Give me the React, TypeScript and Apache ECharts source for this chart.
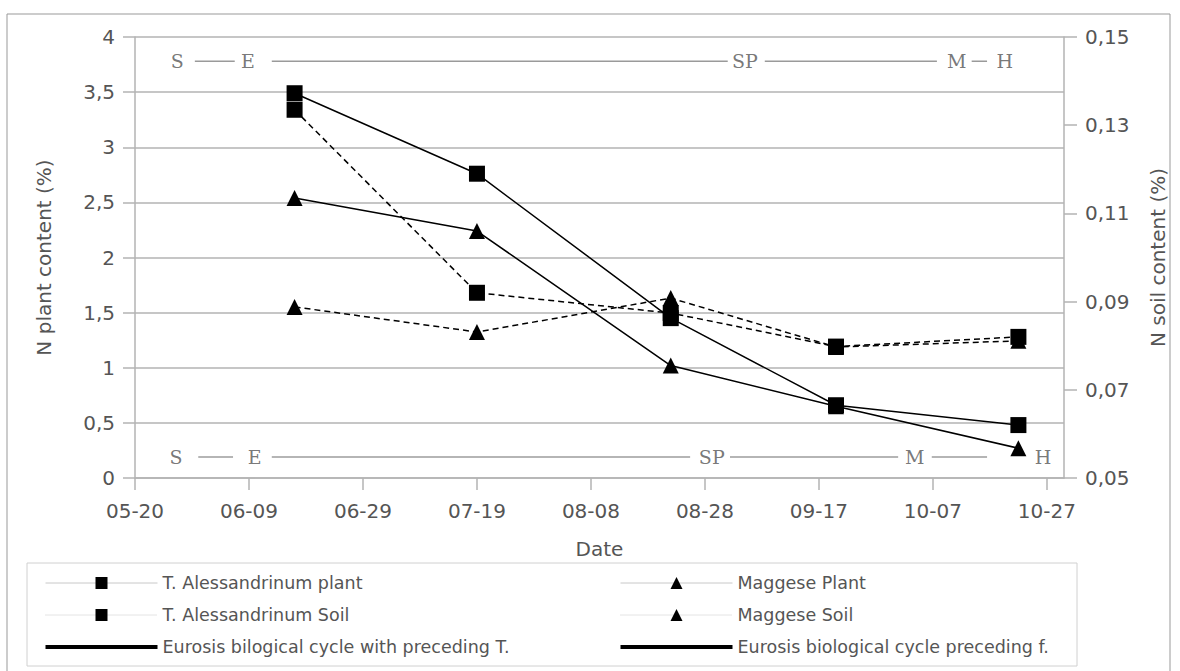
import React, { useEffect, useRef } from "react";
import * as echarts from "echarts";

// ---- data ----
const xTickDays = [140, 160, 180, 200, 220, 240, 260, 280, 300];
const samplingDays = [168, 200, 234, 263, 295];
const taPlant = [3.49, 2.76, 1.45, 0.66, 0.48];
const mgPlant = [2.54, 2.24, 1.02, 0.65, 0.27];
const taSoil = [0.1335, 0.092, 0.0874, 0.0798, 0.082];
const mgSoil = [0.0888, 0.0831, 0.0908, 0.0797, 0.0811];

const leftTicks = { min: 0, max: 4, interval: 0.5 };
const rightTicks = { min: 0.05, max: 0.15, interval: 0.02 };

const phaseLevelT = 3.78;
const phaseLevelF = 0.19;
const phaseSegmentsT = [
  [150.5, 157.5],
  [164, 244],
  [250.5, 280.7],
  [286.8, 289.5],
];
const phaseSegmentsF = [
  [151.1, 157.2],
  [164, 237.4],
  [244.4, 273.9],
  [279.8, 289.5],
];
const phaseLettersT: [string, number][] = [
  ["S", 147.4],
  ["E", 159.8],
  ["SP", 247],
  ["M", 284.2],
  ["H", 292.6],
];
const phaseLettersF: [string, number][] = [
  ["S", 147.2],
  ["E", 161],
  ["SP", 241.2],
  ["M", 276.8],
  ["H", 299.3],
];

const NAME_TA_PLANT = "T. Alessandrinum plant";
const NAME_TA_SOIL = "T. Alessandrinum Soil";
const NAME_EU_T = "Eurosis bilogical cycle with preceding T.";
const NAME_MG_PLANT = "Maggese Plant";
const NAME_MG_SOIL = "Maggese Soil";
const NAME_EU_F = "Eurosis biological cycle preceding f.";

const pad = (n: number) => (n < 10 ? "0" + n : "" + n);
const fmtDay = (d: number) => {
  const dt = new Date(2021, 0, Math.round(d));
  return pad(dt.getMonth() + 1) + "-" + pad(dt.getDate());
};
const comma = (s: string) => s.replace(".", ",");

const segData = (segs: number[][], level: number) => {
  const out: any[] = [];
  segs.forEach((s, i) => {
    if (i > 0) out.push([null, null]);
    out.push([s[0], level], [s[1], level]);
  });
  return out;
};

const AXIS_COLOR = "#b3b3b3";
const TEXT_COLOR = "#555555";
const SANS = "DejaVu Sans";
const THICK_ICON = "path://M0,0L112,0L112,4L0,4Z";

export default function App() {
  const ref = useRef<HTMLDivElement>(null);
  useEffect(() => {
    if (!ref.current) return;
    const chart = echarts.init(ref.current, undefined, { renderer: "svg" });
    const zip = (ys: number[]) => samplingDays.map((d, i) => [d, ys[i]]);
    const lineBase = {
      type: "line",
      symbolSize: 16,
      itemStyle: { color: "#000" },
      z: 5,
    };
    const legendText = {
      fontFamily: SANS,
      fontSize: 17.5,
      color: TEXT_COLOR,
      lineHeight: 18,
    };
    const legendBase = {
      orient: "vertical",
      top: 574,
      padding: 0,
      itemWidth: 112,
      itemHeight: 15,
      itemGap: 14,
      selectedMode: false,
      textStyle: legendText,
    };
    const option: any = {
      animation: false,
      backgroundColor: "#ffffff",
      graphic: [
        {
          type: "rect",
          shape: { x: 7, y: 14, width: 1163, height: 680 },
          style: { fill: "none", stroke: "#999", lineWidth: 1 },
          silent: true,
        },
        {
          type: "rect",
          shape: { x: 27, y: 563, width: 1050, height: 103 },
          style: { fill: "none", stroke: "#d0d0d0", lineWidth: 1 },
          silent: true,
        },
      ],
      grid: {
        left: 135,
        right: 116,
        top: 37,
        bottom: 193,
        containLabel: false,
        outerBoundsMode: "none",
      },
      legend: [
        {
          ...legendBase,
          left: 45,
          data: [
            { name: NAME_TA_PLANT, lineStyle: { color: "#c8c8c8", width: 1, type: "solid" } },
            { name: NAME_TA_SOIL, lineStyle: { color: "#c8c8c8", width: 1, type: "dotted" } },
            { name: NAME_EU_T, icon: THICK_ICON, itemStyle: { color: "#000" } },
          ],
        },
        {
          ...legendBase,
          left: 620,
          data: [
            { name: NAME_MG_PLANT, lineStyle: { color: "#c8c8c8", width: 1, type: "solid" } },
            { name: NAME_MG_SOIL, lineStyle: { color: "#c8c8c8", width: 1, type: "dotted" } },
            { name: NAME_EU_F, icon: THICK_ICON, itemStyle: { color: "#000" } },
          ],
        },
      ],
      xAxis: {
        type: "value",
        min: 140,
        max: 303,
        interval: 20,
        name: "Date",
        nameLocation: "middle",
        nameGap: 61,
        nameTextStyle: { fontFamily: SANS, fontSize: 20, color: TEXT_COLOR },
        axisLine: { lineStyle: { color: AXIS_COLOR, width: 1.5 } },
        axisTick: {
          show: true,
          length: 12,
          customValues: xTickDays,
          lineStyle: { color: AXIS_COLOR, width: 1.5 },
        },
        axisLabel: {
          customValues: xTickDays,
          formatter: (v: number) => fmtDay(v),
          fontFamily: SANS,
          fontSize: 20,
          color: TEXT_COLOR,
          margin: 23,
        },
        splitLine: { show: false },
      },
      yAxis: [
        {
          type: "value",
          ...leftTicks,
          position: "left",
          name: "N plant content (%)",
          nameLocation: "middle",
          nameRotate: 90,
          nameGap: 81,
          nameTextStyle: { fontFamily: SANS, fontSize: 20, color: TEXT_COLOR },
          axisLine: { show: true, lineStyle: { color: AXIS_COLOR, width: 1.5 } },
          axisTick: { show: true, length: 12, lineStyle: { color: AXIS_COLOR, width: 1.5 } },
          axisLabel: {
            formatter: (v: number) => comma(String(Math.round(v * 10) / 10)),
            fontFamily: SANS,
            fontSize: 20,
            color: TEXT_COLOR,
            margin: 20,
          },
          splitLine: { show: true, lineStyle: { color: AXIS_COLOR, width: 1.5 } },
        },
        {
          type: "value",
          ...rightTicks,
          position: "right",
          name: "N soil content (%)",
          nameLocation: "middle",
          nameRotate: 90,
          nameGap: 84,
          nameTextStyle: { fontFamily: SANS, fontSize: 20, color: TEXT_COLOR },
          axisLine: { show: true, lineStyle: { color: AXIS_COLOR, width: 1.5 } },
          axisTick: { show: true, length: 13, lineStyle: { color: AXIS_COLOR, width: 1.5 } },
          axisLabel: {
            formatter: (v: number) => comma(v.toFixed(2)),
            fontFamily: SANS,
            fontSize: 20,
            color: TEXT_COLOR,
            margin: 21,
          },
          splitLine: { show: false },
        },
      ],
      series: [
        {
          ...lineBase,
          name: NAME_TA_PLANT,
          yAxisIndex: 0,
          symbol: "rect",
          lineStyle: { color: "#000", width: 1.5 },
          data: zip(taPlant),
        },
        {
          ...lineBase,
          name: NAME_TA_SOIL,
          yAxisIndex: 1,
          symbol: "rect",
          lineStyle: { color: "#000", width: 1.5, type: [6, 4] },
          data: zip(taSoil),
        },
        {
          type: "line",
          name: NAME_EU_T,
          yAxisIndex: 0,
          symbol: "none",
          connectNulls: false,
          lineStyle: { color: "#9a9a9a", width: 1.5 },
          itemStyle: { color: "#000" },
          z: 2,
          data: segData(phaseSegmentsT, phaseLevelT),
        },
        {
          ...lineBase,
          name: NAME_MG_PLANT,
          yAxisIndex: 0,
          symbol: "triangle",
          lineStyle: { color: "#000", width: 1.5 },
          z: 4,
          data: zip(mgPlant),
        },
        {
          ...lineBase,
          name: NAME_MG_SOIL,
          yAxisIndex: 1,
          symbol: "triangle",
          lineStyle: { color: "#000", width: 1.5, type: [6, 4] },
          z: 4,
          data: zip(mgSoil),
        },
        {
          type: "line",
          name: NAME_EU_F,
          yAxisIndex: 0,
          symbol: "none",
          connectNulls: false,
          lineStyle: { color: "#b5b5b5", width: 2 },
          itemStyle: { color: "#000" },
          z: 2,
          data: segData(phaseSegmentsF, phaseLevelF),
        },
        ...[
          { letters: phaseLettersT, level: phaseLevelT },
          { letters: phaseLettersF, level: phaseLevelF },
        ].map((p, k) => ({
          type: "scatter",
          name: "phase-letters-" + k,
          yAxisIndex: 0,
          symbolSize: 1,
          silent: true,
          z: 3,
          itemStyle: { color: "rgba(0,0,0,0)" },
          label: {
            show: true,
            position: "inside",
            formatter: (pp: any) => pp.name,
            fontFamily: "DejaVu Serif",
            fontSize: 19,
            color: "#555",
          },
          data: p.letters.map(([n, d]) => ({ name: n, value: [d, p.level] })),
        })),
      ],
    };
    chart.setOption(option);
    return () => chart.dispose();
  }, []);
  return (
    <div
      ref={ref}
      style={{ position: "fixed", left: 0, top: 0, width: 1180, height: 671, background: "#fff" }}
    />
  );
}
